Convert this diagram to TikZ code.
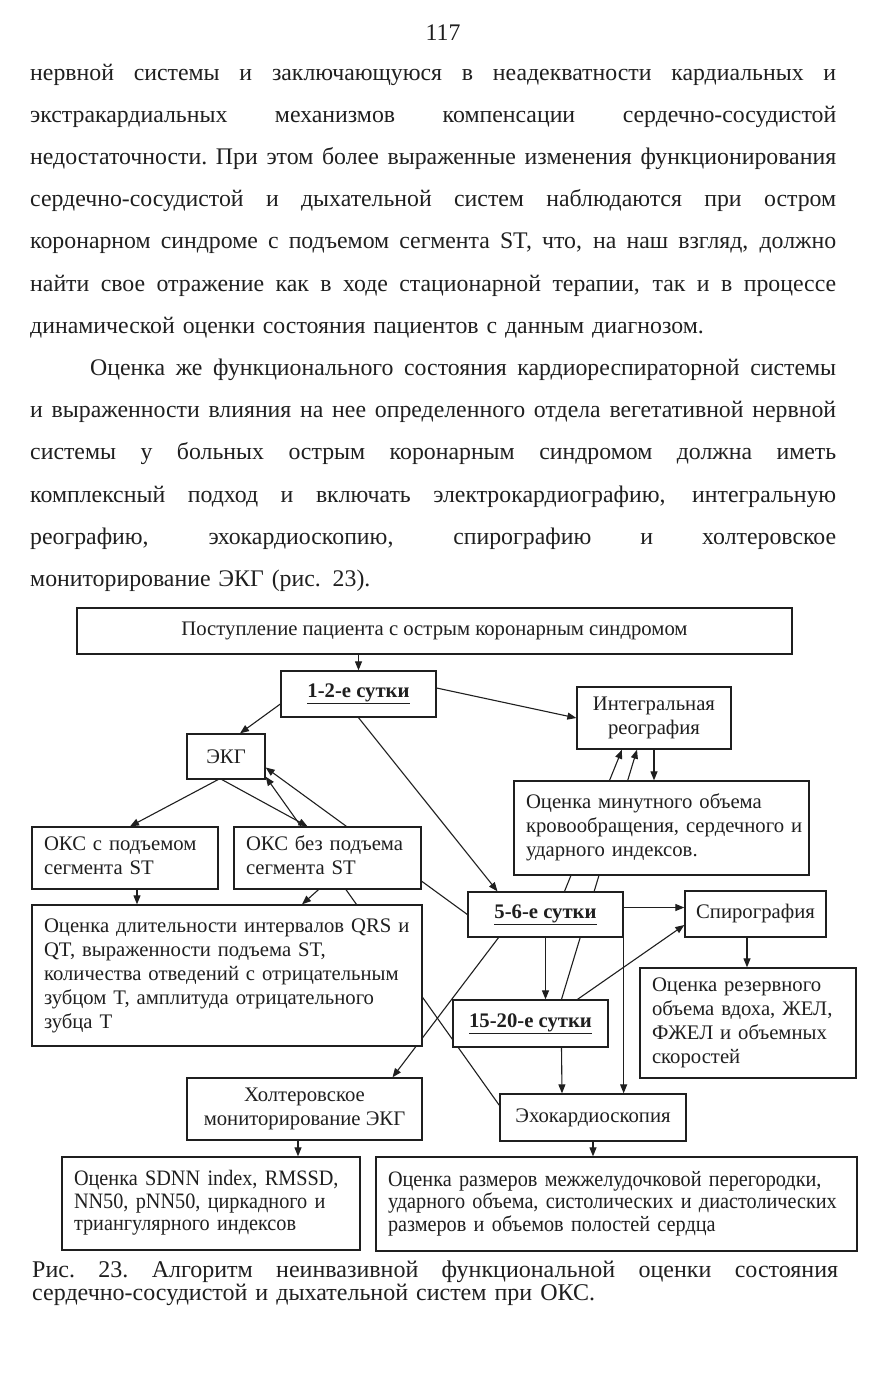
\documentclass[tikz,border=0pt]{standalone}
\usepackage{fontspec}
\setmainfont{Liberation Serif}
\newfontfamily\narrowserif{Liberation Serif}[FakeStretch=0.92]
\usetikzlibrary{arrows.meta, backgrounds}

\definecolor{ink}{gray}{0.12}
\newcommand{\bodyfont}{\fontsize{23.8}{42.2}\selectfont}
\newcommand{\boxfont}{\fontsize{20.7}{24}\selectfont}
\newcommand{\narrowbox}{\narrowserif\fontsize{22}{22.5}\selectfont}
\newcommand{\capfont}{\fontsize{24}{23}\selectfont}
% a justified line of the page text
\newcommand{\fullline}[2][806pt]{{\spaceskip=0.25em plus 1fil minus 0.08em\xspaceskip=\spaceskip\makebox[#1][s]{#2}}}
% left aligned lines inside a box
\newcommand{\boxlines}[1]{\begin{tabular}{@{}l@{}}#1\end{tabular}}

\tikzset{
  box/.style = {draw=ink, line width=1.3pt, fill=white, inner sep=0pt, text=ink, font=\boxfont},
  leftbox/.style = {box, align=left, inner xsep=12pt},
  daybox/.style = {box, font=\boxfont\bfseries},
  arr/.style = {draw=ink, line width=1.1pt, -{Triangle[length=9pt, width=7pt]}},
  plaintext/.style = {inner sep=0pt, text=ink}
}

\begin{document}
\begin{tikzpicture}[x=1pt, y=-1pt]
\useasboundingbox (0,0) rectangle (886,1373);

% page text
\node[plaintext, font=\bodyfont] (pagenum) at (443,33) {117};
\node[plaintext, font=\bodyfont, text width=806pt, align=left, anchor=base west] (para) at (30,80) {%
\fullline{нервной системы и заключающуюся в неадекватности кардиальных и}\\
\fullline{экстракардиальных механизмов компенсации сердечно-сосудистой}\\
\fullline{недостаточности. При этом более выраженные изменения функционирования}\\
\fullline{сердечно-сосудистой и дыхательной систем наблюдаются при остром}\\
\fullline{коронарном синдроме с подъемом сегмента ST, что, на наш взгляд, должно}\\
\fullline{найти свое отражение как в ходе стационарной терапии, так и в процессе}\\
динамической оценки состояния пациентов с данным диагнозом.\\
\hspace*{60pt}\fullline[746pt]{Оценка же функционального состояния кардиореспираторной системы}\\
\fullline{и выраженности влияния на нее определенного отдела вегетативной нервной}\\
\fullline{системы у больных острым коронарным синдромом должна иметь}\\
\fullline{комплексный подход и включать электрокардиографию, интегральную}\\
\fullline{реографию, эхокардиоскопию, спирографию и холтеровское}\\
мониторирование ЭКГ (рис. 23).};

% boxes
\node[box, minimum width=715pt, minimum height=46pt] (admit) at (434.5,631) {Поступление пациента с острым коронарным синдромом};
\node[daybox, minimum width=155pt, minimum height=46pt] (day12) at (358.5,694) {\underline{1-2-е сутки}};
\node[box, minimum width=78pt, minimum height=45pt] (ecg) at (226,756.5) {ЭКГ};
\node[box, align=center, minimum width=154pt, minimum height=62pt] (rheo) at (654,718) {Интегральная\\реография};
\node[leftbox, text width=162pt, minimum height=62pt] (stelev) at (125,858) {\boxlines{ОКС с подъемом\\сегмента ST}};
\node[leftbox, text width=163pt, minimum height=62pt] (nostelev) at (327.5,858) {\boxlines{ОКС без подъема\\сегмента ST}};
\node[leftbox, text width=271pt, minimum height=94pt] (rheoeval) at (661.5,828) {\boxlines{Оценка минутного объема\\кровообращения, сердечного и\\ударного индексов.}};
\node[daybox, minimum width=155pt, minimum height=45pt] (day56) at (545.5,914.5) {\underline{5-6-е сутки}};
\node[box, minimum width=141pt, minimum height=46pt] (spiro) at (755.5,914) {Спирография};
\node[leftbox, text width=366pt, minimum height=141pt] (ecgeval) at (227,975.5) {\boxlines{Оценка длительности интервалов QRS и\\QT, выраженности подъема ST,\\количества отведений с отрицательным\\зубцом T, амплитуда отрицательного\\зубца T}};
\node[leftbox, text width=192pt, minimum height=110pt] (spiroeval) at (748,1023) {\boxlines{Оценка резервного\\объема вдоха, ЖЕЛ,\\ФЖЕЛ и объемных\\скоростей}};
\node[daybox, minimum width=155pt, minimum height=47pt] (day1520) at (530.5,1023.5) {\underline{15-20-е сутки}};
\node[box, align=center, minimum width=235pt, minimum height=62pt] (holter) at (304.5,1109) {Холтеровское\\мониторирование ЭКГ};
\node[box, minimum width=186pt, minimum height=47pt] (echo) at (593,1117.5) {Эхокардиоскопия};
\node[leftbox, font=\narrowbox, text width=274pt, minimum height=93pt] (holtereval) at (211,1203.5) {\boxlines{Оценка SDNN index, RMSSD,\\NN50, pNN50, циркадного и\\триангулярного индексов}};
\node[leftbox, font=\narrowbox, text width=457pt, minimum height=94pt] (echoeval) at (616.5,1204) {\boxlines{Оценка размеров межжелудочковой перегородки,\\ударного объема, систолических и диастолических\\размеров и объемов полостей сердца}};

% connectors, under the boxes
\begin{scope}[on background layer]
\fill[white] (0,0) rectangle (886,1373);
\draw[arr] (admit.south -| day12.north) -- (day12.north);
\draw[arr] ([yshift=6pt]day12.east) -- (rheo.west);
\draw[arr] ([yshift=-10pt]day12.west) -- ([xshift=14pt]ecg.north);
\draw[arr] (day12.south) -- ([xshift=-48pt]day56.north);
\draw[arr] ([xshift=-8pt]ecg.south) -- ([xshift=5pt]stelev.north);
\draw[arr] ([xshift=-4pt]ecg.south) -- ([xshift=-20pt]nostelev.north);
\draw[arr] (day56.west) -- ([yshift=-11pt]ecg.east);
\draw[arr] ([yshift=-12pt]echo.north west) -- ([yshift=3pt]ecg.south east);
\draw[arr] ([xshift=19pt]day56.north) -- ([xshift=-32pt]rheo.south);
\draw[arr] ([xshift=31pt]day1520.north) -- ([xshift=-17pt]rheo.south);
\draw[arr] (rheo.south) -- (rheo.south |- rheoeval.north);
\draw[arr] ([yshift=7pt]day56.east) -- ([yshift=7pt]day56.east -| spiro.west);
\draw[arr] (day56.south) -- (day56.south |- day1520.north);
\draw[arr] (day56.south east) -- (day56.south east |- echo.north);
\draw[arr] ([xshift=-47pt]day56.south) -- ([xshift=88pt]holter.north);
\draw[arr] ([xshift=47pt]day1520.north) -- ([yshift=-11pt]spiro.west);
\draw[arr] ([xshift=31pt]day1520.south) -- ([xshift=-31pt]echo.north);
\draw[arr] ([xshift=12pt]stelev.south) -- ([xshift=-90pt]ecgeval.north);
\draw[arr] ([xshift=-9pt]nostelev.south) -- ([xshift=75pt]ecgeval.north);
\draw[arr] ([xshift=-8.5pt]spiro.south) -- ([xshift=-1pt]spiroeval.north);
\draw[arr] ([xshift=-6.5pt]holter.south) -- ([xshift=87pt]holtereval.north);
\draw[arr] (echo.south) -- ([xshift=-23.5pt]echoeval.north);
\end{scope}

% caption
\node[plaintext, font=\capfont, text width=806pt, align=left, anchor=base west] (caption) at (32,1277) {%
\fullline{Рис. 23. Алгоритм неинвазивной функциональной оценки состояния}\\
сердечно-сосудистой и дыхательной систем при ОКС.};
\end{tikzpicture}
\end{document}
